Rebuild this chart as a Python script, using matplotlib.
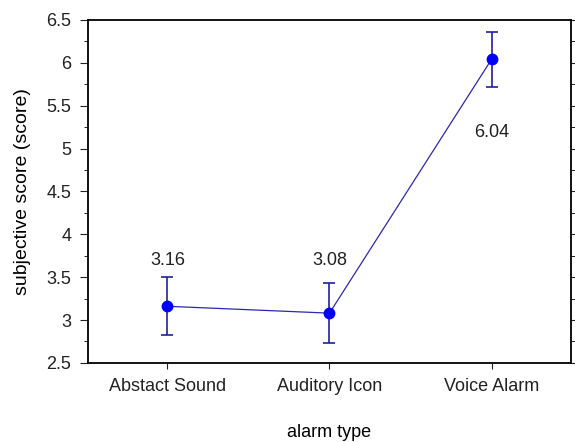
import matplotlib.pyplot as plt
import numpy as np

plt.rcParams['font.family'] = ['Liberation Sans', 'DejaVu Sans']

# data
categories = ['Abstact Sound', 'Auditory Icon', 'Voice Alarm']
means = [3.16, 3.08, 6.04]
errors = [0.34, 0.35, 0.32]
labels = ['3.16', '3.08', '6.04']
label_y = [3.69, 3.69, 5.19]
yticks = [2.5, 3, 3.5, 4, 4.5, 5, 5.5, 6, 6.5]
ytick_labels = ['2.5', '3', '3.5', '4', '4.5', '5', '5.5', '6', '6.5']

x = np.arange(len(categories))

fig = plt.figure(figsize=(5.75, 4.42), dpi=100)
ax = fig.add_axes([0.153, 0.179, 0.84, 0.776])

ax.plot(x, means, color='#2a2ab0', linewidth=0.9, zorder=2)
ax.errorbar(x, means, yerr=errors, fmt='o', color='#0000ff', ecolor='#2020a0',
            elinewidth=1.2, capsize=4, capthick=1.2, markersize=7.5, zorder=3)

for xi, t, ly in zip(x, labels, label_y):
    ax.text(xi, ly, t, ha='center', va='center', fontsize=13, color='#222222')

ax.set_xlim(-0.49, 2.49)
ax.set_ylim(2.5, 6.5)
ax.set_xticks(x)
ax.set_xticklabels(categories)
ax.set_yticks(yticks)
ax.set_yticklabels(ytick_labels)
ax.set_yticks(np.arange(2.75, 6.5, 0.5), minor=True)
ax.tick_params(axis='y', which='both', right=True, direction='out')
ax.tick_params(axis='y', which='major', length=6, pad=6)
ax.tick_params(axis='y', which='minor', length=3)
ax.tick_params(axis='x', length=4, pad=7)
ax.tick_params(labelsize=13, colors='#222222')
for s in ax.spines.values():
    s.set_linewidth(1.3)

ax.set_xlabel('alarm type', fontsize=13, labelpad=21)
ax.set_ylabel('subjective score (score)', fontsize=14, labelpad=11)

fig.savefig('out.png', dpi=100)
